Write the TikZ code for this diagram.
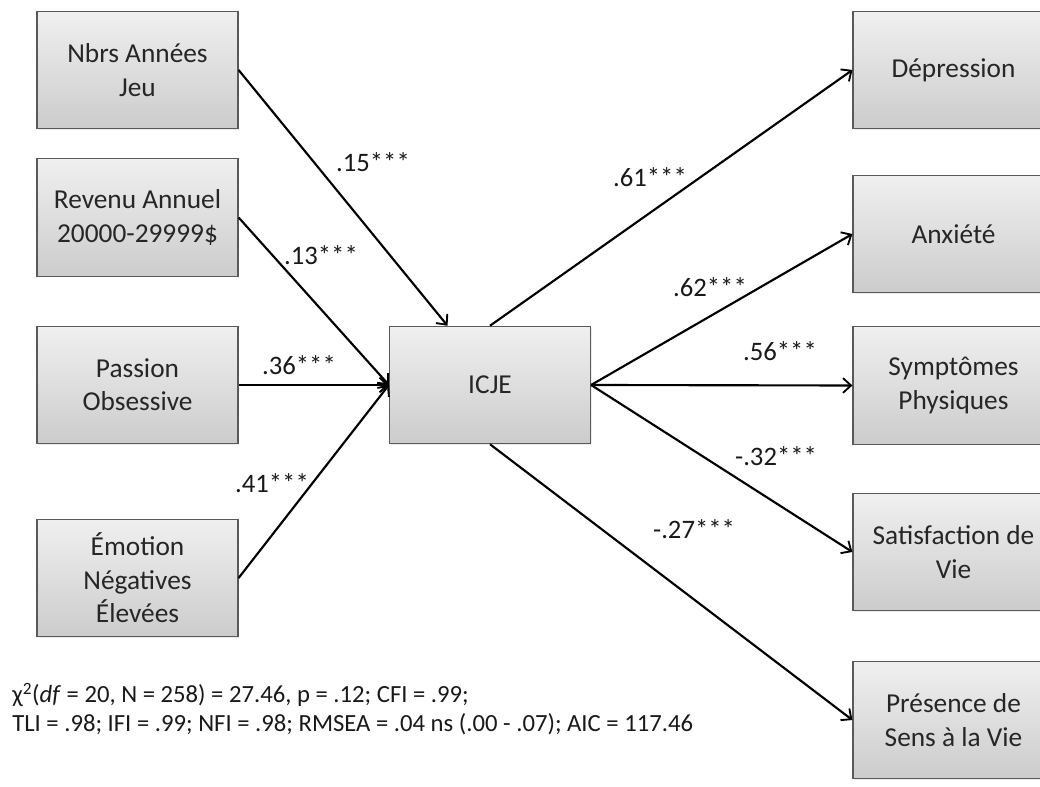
\documentclass[tikz,border=0pt]{standalone}
\usepackage{fontspec}
\setmainfont{Carlito}
\usetikzlibrary{arrows.meta,shadows,calc}
\tikzset{
  box/.style={rectangle, draw=black!65, line width=0.9pt, top color=black!6, bottom color=black!20,
    minimum width=150.75pt, minimum height=88pt, align=center, inner sep=2pt,
    text=black!85, font=\fontsize{20.5}{25}\selectfont,
    drop shadow={opacity=0.15, shadow xshift=1pt, shadow yshift=-1pt}},
  path/.style={line width=1.6pt, -{Straight Barb[length=6pt,width=11pt,line width=1.4pt]}},
  coef/.style={font=\fontsize{20}{24}\selectfont, inner sep=0pt, text=black!90},
  fit/.style={font=\fontsize{18.5}{22}\selectfont, anchor=west, inner sep=0pt, text=black!90}
}
\begin{document}
\begin{tikzpicture}[x=0.75pt,y=-0.75pt]
\useasboundingbox (0,0) rectangle (1040,787);
\clip (0,0) rectangle (1040,787);
\fill[white] (0,0) rectangle (1040,787);
% left boxes
\node[box] (nbrs) at (137.5,70) {Nbrs Années\\Jeu};
\node[box] (rev) at (137.5,217.5) {Revenu Annuel\\20000-29999\$};
\node[box] (pass) at (137.5,385) {Passion\\Obsessive};
\node[box] (emo) at (137.5,578) {Émotion\\Négatives\\Élevées};
% centre
\node[box] (icje) at (490,385) {ICJE};
% right boxes
\node[box] (dep) at (953.5,70) {Dépression};
\node[box] (anx) at (953.5,234) {Anxiété};
\node[box] (sym) at (953.5,385.5) {Symptômes\\Physiques};
\node[box] (sat) at (953.5,552) {Satisfaction de\\Vie};
\node[box] (pres) at (953.5,720) {Présence de\\Sens à la Vie};
% arrows in
\coordinate (icjetop) at ($(icje.north west)!0.29!(icje.north east)$);
\draw[path] (nbrs.east) -- (icjetop);
\draw[path] (rev.east) -- (icje.west);
\draw[path] (pass.east) -- (icje.west);
\draw[path] (emo.east) -- (icje.west);
% arrows out
\draw[path] (icje.north) -- (dep.west);
\draw[path] (icje.east) -- (anx.west);
\draw[path] (icje.east) -- (sym.west);
\draw[path] (icje.east) -- (sat.west);
\draw[path] (icje.south) -- (pres.west);
% coefficients
\node[coef] (c1) at (373,162) {.15***};
\node[coef] (c2) at (321,255) {.13***};
\node[coef] (c3) at (299,365) {.36***};
\node[coef] (c4) at (272,483) {.41***};
\node[coef] (c5) at (650,177) {.61***};
\node[coef] (c6) at (710,287) {.62***};
\node[coef] (c7) at (780,351) {.56***};
\node[coef] (c8) at (776,456) {-.32***};
\node[coef] (c9) at (694,529) {-.27***};
% fit indices
\node[fit] (f1) at (12,695) {χ\textsuperscript{2}(\textit{df} = 20, N = 258) = 27.46, p = .12; CFI = .99;};
\node[fit] (f2) at (12,724) {TLI = .98; IFI = .99; NFI = .98; RMSEA = .04 ns (.00 - .07); AIC = 117.46};
\end{tikzpicture}
\end{document}
